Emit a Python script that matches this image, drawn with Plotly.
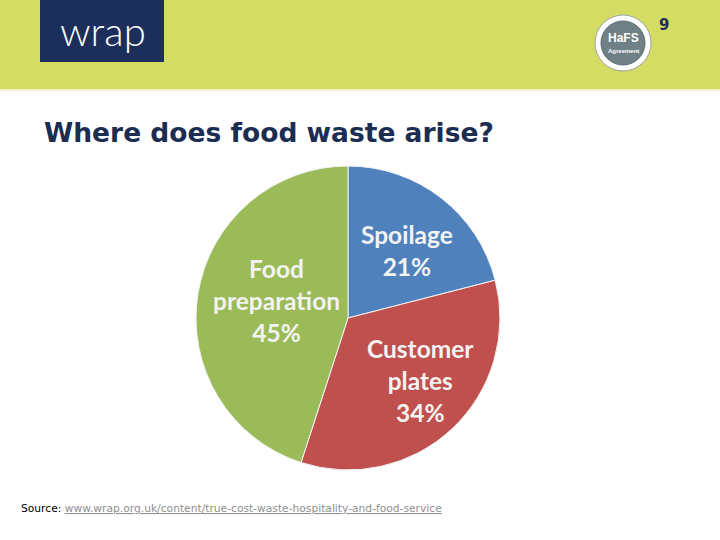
import plotly.graph_objects as go

# ---- data ----
categories = ["Spoilage", "Customer plates", "Food preparation"]
label_lines = ["Spoilage", "Customer<br>plates", "Food<br>preparation"]
values = [21, 34, 45]
colors = ["#4f81bd", "#c0504d", "#9bbb59"]
title_text = "Where does food waste arise?"
source_prefix = "Source:"
source_url = "www.wrap.org.uk/content/true-cost-waste-hospitality-and-food-service"
page_number = "9"

W, H = 720, 540

def px(x):
    return x / W

def py(y):
    return 1 - y / H

fig = go.Figure()
fig.add_trace(go.Pie(
    labels=categories,
    values=values,
    sort=False,
    direction="clockwise",
    rotation=0,
    marker=dict(colors=colors, line=dict(color="#f4f4f4", width=1)),
    textinfo="none",
    hoverinfo="label+percent",
    showlegend=False,
    domain=dict(x=[px(196), px(500)], y=[py(470), py(166)]),
))

# label annotations (text derived from data)
label_pos = [(407, 250), (420, 380), (276, 300)]
annotations = []
for txt, v, (x, y) in zip(label_lines, values, label_pos):
    annotations.append(dict(
        x=px(x), y=py(y), xref="paper", yref="paper",
        text=f"<b>{txt}<br>{v}%</b>", showarrow=False,
        font=dict(family="Lato", size=24.5, color="#f3f3f3"),
        align="center", xanchor="center", yanchor="middle",
    ))

# title
annotations.append(dict(
    x=px(42), y=py(132), xref="paper", yref="paper",
    text=f"<b>{title_text}</b>", showarrow=False,
    font=dict(family="DejaVu Sans", size=26.5, color="#1c2d52"),
    xanchor="left", yanchor="middle",
))

# source
annotations.append(dict(
    x=px(19), y=py(509), xref="paper", yref="paper",
    text=f"{source_prefix} <span style='color:#8f8f8f'><u>{source_url}</u></span>",
    showarrow=False,
    font=dict(family="DejaVu Sans", size=10.7, color="#000000"),
    xanchor="left", yanchor="middle",
))

# wrap logo text
annotations.append(dict(
    x=px(103), y=py(31), xref="paper", yref="paper",
    text="wrap", showarrow=False,
    font=dict(family="Lato", size=40, color="#ffffff", weight=300),
    xanchor="center", yanchor="middle",
))

# HaFS logo text
annotations.append(dict(
    x=px(623), y=py(38), xref="paper", yref="paper",
    text="<b>HaFS</b>", showarrow=False,
    font=dict(family="Liberation Sans", size=12, color="#ffffff"),
    xanchor="center", yanchor="middle",
))
annotations.append(dict(
    x=px(623), y=py(51), xref="paper", yref="paper",
    text="<b>Agreement</b>", showarrow=False,
    font=dict(family="Liberation Sans", size=6, color="#ffffff"),
    xanchor="center", yanchor="middle",
))

# page number
annotations.append(dict(
    x=px(664), y=py(25), xref="paper", yref="paper",
    text=f"<b>{page_number}</b>", showarrow=False,
    font=dict(family="DejaVu Sans", size=15, color="#1b2f5a"),
    xanchor="center", yanchor="middle",
))

shapes = [
    # top banner
    dict(type="rect", xref="paper", yref="paper", x0=0, x1=1, y0=py(89), y1=1,
         fillcolor="#d4dc63", line=dict(width=0), layer="below"),
    dict(type="rect", xref="paper", yref="paper", x0=0, x1=1, y0=py(91), y1=py(89),
         fillcolor="#eef0c4", line=dict(width=0), layer="below"),
    # wrap logo box
    dict(type="rect", xref="paper", yref="paper", x0=px(40), x1=px(164), y0=py(62), y1=1,
         fillcolor="#1b2f5a", line=dict(width=0), layer="below"),
    # HaFS logo
    dict(type="circle", xref="paper", yref="paper", x0=px(595), x1=px(651), y0=py(71), y1=py(15),
         fillcolor="#ffffff", line=dict(color="#9aa4a8", width=1), layer="below"),
    dict(type="circle", xref="paper", yref="paper", x0=px(601), x1=px(645), y0=py(65), y1=py(21),
         fillcolor="#6f8086", line=dict(color="#5a6a70", width=1), layer="below"),
]

fig.update_layout(
    width=W, height=H,
    margin=dict(l=0, r=0, t=0, b=0),
    paper_bgcolor="#ffffff",
    plot_bgcolor="#ffffff",
    annotations=annotations,
    shapes=shapes,
)

fig.write_html("out.html", config={"displayModeBar": False},
               post_script="document.body.style.margin='0';")
